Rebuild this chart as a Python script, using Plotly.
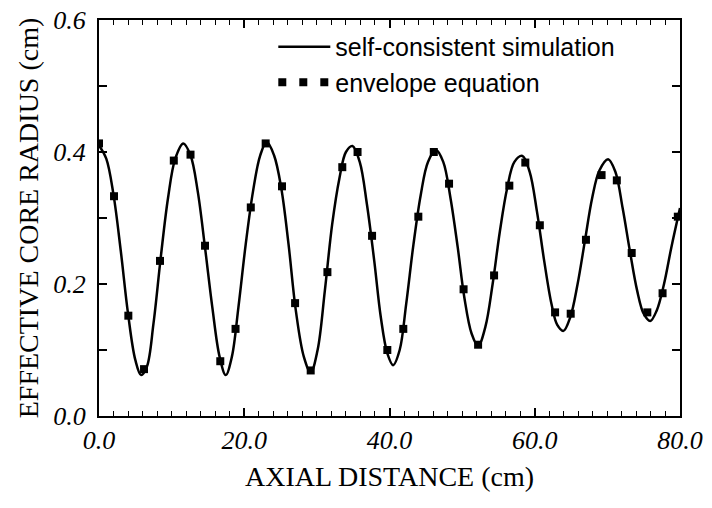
import plotly.graph_objects as go

# Self-consistent simulation curve
sim_x = [0.0, 1.0, 2.0, 3.0, 4.0, 5.0, 5.8, 6.6, 7.5, 8.5, 9.5, 10.5, 11.6,
         12.6, 13.6, 14.6, 15.6, 16.6, 17.45, 18.3, 19.2, 20.2, 21.2, 22.2, 23.1,
         24.1, 25.1, 26.1, 27.1, 28.2, 29.15, 30.1, 31.1, 32.1, 33.1, 34.0, 34.9,
         35.9, 36.9, 37.9, 38.8, 39.7, 40.5, 41.4, 42.3, 43.3, 44.3, 45.3, 46.4,
         47.4, 48.4, 49.4, 50.3, 51.3, 52.2, 53.2, 54.2, 55.2, 56.2, 57.2, 58.3,
         59.3, 60.3, 61.3, 62.3, 63.1, 63.95, 64.9, 65.9, 66.9, 67.9, 68.9, 70.1,
         71.1, 72.1, 73.1, 74.1, 75.0, 75.9, 76.8, 77.8, 78.8, 80.0]
sim_y = [0.410, 0.390, 0.335, 0.250, 0.155, 0.085, 0.062, 0.075, 0.140, 0.240, 0.330, 0.390, 0.413,
         0.395, 0.340, 0.255, 0.165, 0.090, 0.062, 0.090, 0.165, 0.260, 0.340, 0.395, 0.415,
         0.395, 0.345, 0.260, 0.160, 0.090, 0.066, 0.100, 0.190, 0.290, 0.360, 0.400, 0.409,
         0.385, 0.320, 0.235, 0.150, 0.095, 0.077, 0.100, 0.170, 0.260, 0.335, 0.385, 0.403,
         0.385, 0.330, 0.255, 0.180, 0.125, 0.106, 0.135, 0.200, 0.280, 0.345, 0.385, 0.394,
         0.370, 0.310, 0.235, 0.170, 0.138, 0.129, 0.150, 0.200, 0.265, 0.330, 0.372, 0.389,
         0.370, 0.315, 0.250, 0.190, 0.155, 0.144, 0.160, 0.200, 0.255, 0.315]

# Envelope equation points
env_x = [0.0, 2.07, 4.04, 6.2, 8.4, 10.3, 12.6, 14.6, 16.7, 18.8, 20.9, 22.95, 25.2,
         27.0, 29.15, 31.45, 33.5, 35.6, 37.6, 39.7, 41.9, 43.97, 46.1, 48.2, 50.2,
         52.2, 54.4, 56.5, 58.7, 60.7, 62.8, 64.95, 67.05, 69.2, 71.3, 73.35, 75.5,
         77.6, 79.7]
env_y = [0.413, 0.333, 0.152, 0.071, 0.235, 0.387, 0.396, 0.258, 0.083, 0.132, 0.316, 0.413, 0.348,
         0.171, 0.069, 0.218, 0.377, 0.400, 0.273, 0.100, 0.132, 0.302, 0.400, 0.352, 0.192,
         0.108, 0.213, 0.349, 0.384, 0.289, 0.157, 0.155, 0.267, 0.365, 0.357, 0.247, 0.157,
         0.186, 0.302]

x_ticks = [0, 20, 40, 60, 80]
x_tick_labels = ["0.0", "20.0", "40.0", "60.0", "80.0"]
y_ticks = [0.0, 0.2, 0.4, 0.6]
y_tick_labels = ["0.0", "0.2", "0.4", "0.6"]

serif = "Liberation Serif, Times New Roman, serif"
sans = "Liberation Sans, Arial, Helvetica, sans-serif"

fig = go.Figure()
fig.add_trace(go.Scatter(
    x=sim_x, y=sim_y, mode="lines", name="self-consistent simulation",
    line=dict(color="black", width=2.5, shape="spline", smoothing=1.0),
))
fig.add_trace(go.Scatter(
    x=env_x, y=env_y, mode="markers", name="envelope equation",
    marker=dict(symbol="square", size=8, color="black"),
    legendgroup="env", showlegend=False,
))
# legend-only entry drawn as a row of squares, as in the original key
fig.add_trace(go.Scatter(
    x=[None], y=[None], mode="lines", name="envelope equation",
    line=dict(color="black", width=8, dash="8px,13px"),
    legendgroup="env", showlegend=True, hoverinfo="skip",
))

axis_common = dict(
    showgrid=False, zeroline=False, showline=True, linecolor="black", linewidth=2,
    mirror="ticks", ticks="inside", tickcolor="black", tickwidth=1.5, ticklen=8,
    automargin=False, ticklabeloverflow="allow",
)

fig.update_xaxes(
    range=[0, 80], tickvals=x_ticks, ticktext=x_tick_labels,
    tickfont=dict(family=serif, size=26, color="black", style="italic"),
    title=dict(text="AXIAL DISTANCE (cm)", font=dict(family=serif, size=28, color="black"), standoff=12),
    minor=dict(dtick=2, ticks="inside", ticklen=5, tickwidth=1.2, tickcolor="black"),
    **axis_common,
)
fig.update_yaxes(
    range=[0, 0.6], tickvals=y_ticks, ticktext=y_tick_labels,
    tickfont=dict(family=serif, size=26, color="black", style="italic"),
    ticklabelstandoff=6,
    title=dict(text="EFFECTIVE CORE RADIUS (cm)", font=dict(family=serif, size=28, color="black"), standoff=6),
    minor=dict(dtick=0.1, ticks="inside", ticklen=8, tickwidth=1.5, tickcolor="black"),
    **axis_common,
)

fig.update_layout(
    width=712, height=508,
    margin=dict(l=99, r=32, t=20, b=92),
    paper_bgcolor="white", plot_bgcolor="white",
    showlegend=True,
    legend=dict(
        x=0.30, y=0.99, xanchor="left", yanchor="top",
        bgcolor="rgba(0,0,0,0)", borderwidth=0,
        font=dict(family=sans, size=25, color="black"),
        itemwidth=52, tracegroupgap=0,
    ),
)

# remove the browser's default 8px body margin so the figure sits at the page corner
fig.write_html("out.html", config={"displayModeBar": False},
               post_script="document.body.style.margin='0px';")
